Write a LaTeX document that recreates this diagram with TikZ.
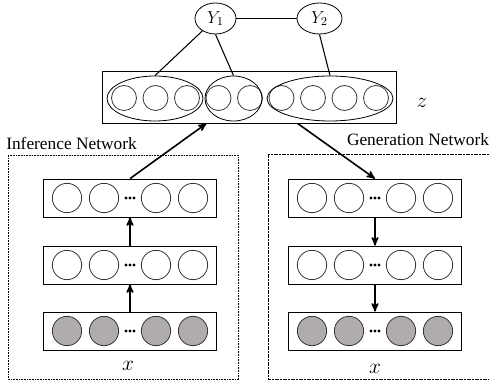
\documentclass[tikz,border=0pt]{standalone}
\usepackage{fix-cm}
\usepackage{fontspec}
\setmainfont{Liberation Serif}
\usepackage{tikz}
\usetikzlibrary{positioning}
\usetikzlibrary{arrows}
\usetikzlibrary{shapes,calc}
\definecolor{unitgray}{RGB}{176,172,172}
\definecolor{unitline}{RGB}{55,55,55}

\begin{document}
\begin{tikzpicture}[x=0.75pt,y=-0.75pt]
	\useasboundingbox (0,0) rectangle (489,391);

	% the two network frames
	\draw[line width=0.6pt, dash pattern=on 1.3pt off 0.7pt] (8,155) rectangle (238,379);
	\draw[line width=0.6pt, dash pattern=on 3pt off 1pt on 1pt off 1pt] (268,154) rectangle (492,379);
	\node[font=\fontsize{13}{15}\selectfont] (inflabel) at (71.5,143) {Inference Network};
	\node[font=\fontsize{13}{15}\selectfont] (genlabel) at (418,140) {Generation Network};

	% latent layer z
	\begin{scope}[every node/.style={draw, line width=0.6pt, inner sep=0pt}]
	    \node[rectangle, minimum width=221pt, minimum height=39pt] (Z) at (249.5,97) {};
	    \foreach \i in {1,...,9}
	        \node[circle, draw=unitline, minimum size=18.75pt] (z\i) at ({124+31.5*(\i-1)},98) {};
	    \node[ellipse, minimum width=72pt, minimum height=33.75pt] (e1) at (155,98.5) {};
	    \node[ellipse, minimum width=42.75pt, minimum height=33.75pt] (e2) at (233.5,98.5) {};
	    \node[ellipse, minimum width=94.5pt, minimum height=33.75pt] (e3) at (330,98.5) {};
	    \node[ellipse, minimum width=30.75pt, minimum height=23.25pt, font=\fontsize{13}{15}\selectfont] (Y1) at (215.5,18.5) {$Y_1$};
	    \node[ellipse, minimum width=33.75pt, minimum height=23.25pt, font=\fontsize{13}{15}\selectfont] (Y2) at (319.5,18.5) {$Y_2$};
	\end{scope}
	\node[font=\fontsize{16}{18}\selectfont] (zlabel) at (422,103) {$z$};

	\draw[line width=0.8pt] (Y1) -- (Y2);
	\draw[line width=0.8pt] (Y1) -- (e1.north);
	\draw[line width=0.8pt] (Y1.south) -- (e2.north);
	\draw[line width=0.8pt] (Y2.south) -- (e3.north);

	% layers of the two networks
	\foreach \name/\x/\y/\col in {inf1/130/198/white, inf2/130/265/white, inf3/130/331/unitgray,
	                              gen1/375/198/white, gen2/375/265/white, gen3/375/331/unitgray} {
	    \node[draw, line width=0.6pt, minimum width=129.75pt, minimum height=28.5pt] (\name) at (\x,\y) {};
	    \foreach \i/\dx in {1/-63, 2/-26, 3/26, 4/63}
	        \node[circle, draw=unitline, fill=\col, line width=0.6pt, inner sep=0pt, minimum size=22pt] (\name-\i) at (\x+\dx,\y) {};
	    \foreach \dx in {-4,0,4}
	        \fill (\x+\dx,\y) circle (1.3pt);
	}
	\node[font=\fontsize{16}{18}\selectfont] (xinf) at (128,366) {$x$};
	\node[font=\fontsize{16}{18}\selectfont] (xgen) at (375,369) {$x$};

	\coordinate (zin) at ($(Z.south)+(-43,0)$);
	\coordinate (zout) at ($(Z.south)+(48,0)$);

	\begin{scope}[>=stealth',
	              every edge/.style={draw=black, line width=1.2pt}]
	    \path [->] (inf3) edge (inf2);
	    \path [->] (inf2) edge (inf1);
	    \path [->] (inf1.north) edge (zin);
	    \path [->] (zout) edge (gen1.north);
	    \path [->] (gen1) edge (gen2);
	    \path [->] (gen2) edge (gen3);
	\end{scope}
\end{tikzpicture}
\end{document}
